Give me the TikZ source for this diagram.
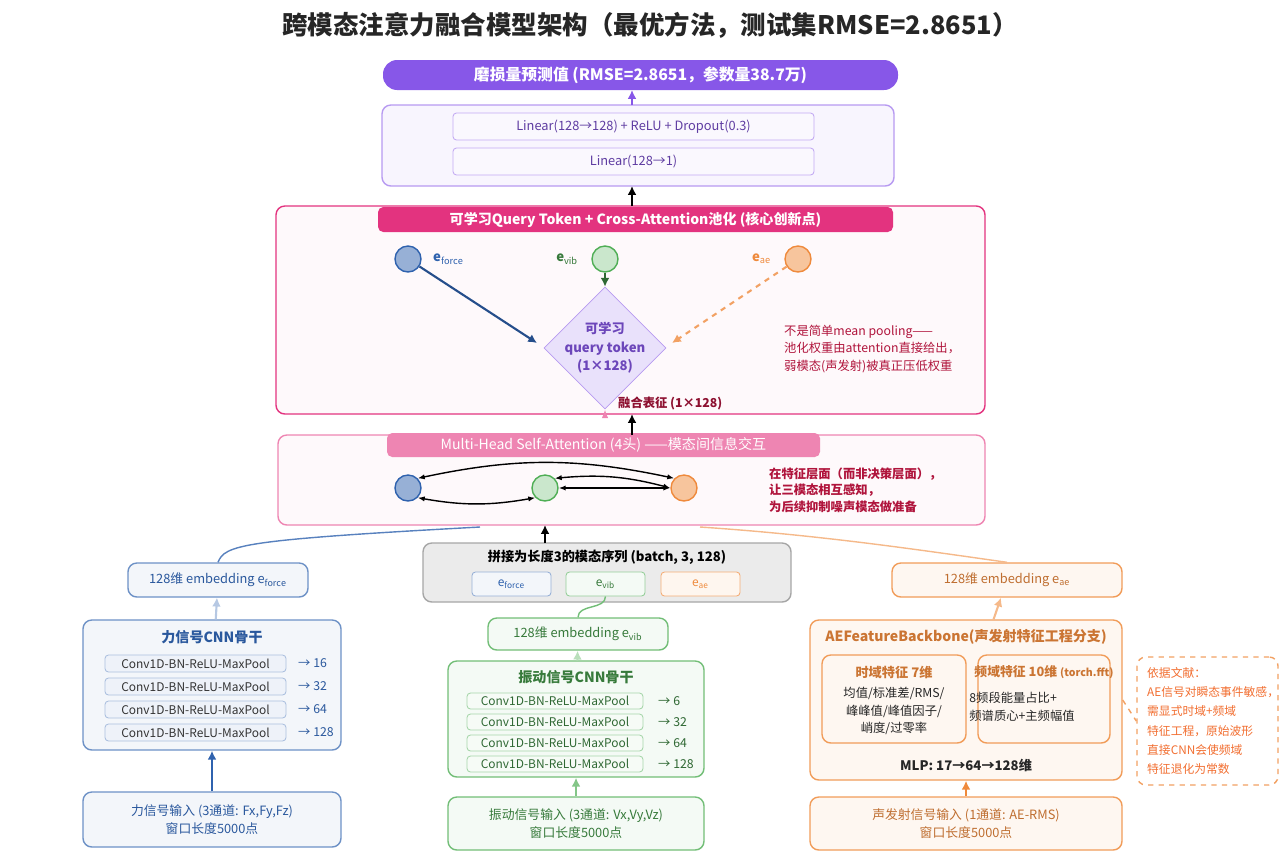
\documentclass[tikz,border=0pt]{standalone}
\usepackage{fontspec}
\setmainfont{Noto Sans CJK SC}
\usetikzlibrary{arrows.meta}
\definecolor{fblue}{HTML}{2F62AE}
\definecolor{fgreen}{HTML}{4FAE55}
\definecolor{forange}{HTML}{EF8A3C}
\definecolor{fpink}{HTML}{E3337F}
\definecolor{fpurple}{HTML}{8757E8}
\definecolor{fred}{HTML}{B0143C}
\tikzset{
  box/.style={draw, rounded corners=5pt, inner sep=0pt, line width=0.8pt, align=center, font=\fontsize{7.3}{10}\selectfont},
  bluebox/.style={box, draw=fblue!70, fill=fblue!6, text=fblue!90!black},
  greenbox/.style={box, draw=fgreen!80, fill=fgreen!6, text=fgreen!70!black},
  orangebox/.style={box, draw=forange!85, fill=forange!7, text=forange!80!black},
  conv/.style={box, rounded corners=2pt, line width=0.5pt, font=\fontsize{6.8}{8}\selectfont},
  tok/.style={circle, draw, line width=0.8pt, minimum size=0.52cm, inner sep=0pt},
  arr/.style={-{Latex[length=5pt,width=5pt]}, line width=1.2pt},
  note/.style={font=\fontsize{7}{10}\selectfont, align=left, anchor=west, text=fred}
}
% box from pixel corners
\newcommand\pbox[7]{\node[#6, minimum width={(#4-#2)*0.02cm}, minimum height={(#5-#3)*0.02cm}] (#1) at ({(#2+#4)/2},{(#3+#5)/2}) {#7};}
\begin{document}
\begin{tikzpicture}[x=0.02cm, y=-0.02cm]
\useasboundingbox (0,0) rectangle (1280,853);
\node[font=\fontsize{14.5}{16}\selectfont\bfseries, text=black!85] (title) at (650,25) {跨模态注意力融合模型架构（最优方法，测试集RMSE=2.8651）};

% output and head
\pbox{out}{383}{60}{898}{90}{box, draw=none, fill=fpurple, text=white, rounded corners=8pt, font=\fontsize{9}{10}\selectfont\bfseries}{磨损量预测值 (RMSE=2.8651，参数量38.7万)}
\pbox{head}{382}{105}{894}{186}{box, draw=fpurple!60, fill=fpurple!6}{}
\pbox{lin1}{453}{113}{814}{140}{conv, draw=fpurple!50, fill=fpurple!4, text=fpurple!70!black, font=\fontsize{7.3}{9}\selectfont}{Linear(128→128) + ReLU + Dropout(0.3)}
\pbox{lin2}{453}{148}{814}{175}{conv, draw=fpurple!50, fill=fpurple!4, text=fpurple!70!black, font=\fontsize{7.3}{9}\selectfont}{Linear(128→1)}
\coordinate (headtop) at (632,105);
\coordinate (outbot) at (632,90);
\draw[arr, fpurple] (headtop) -- (outbot);

% cross-attention pooling
\pbox{cross}{276}{206}{985}{414}{box, draw=fpink, fill=fpink!3}{}
\pbox{crosst}{378}{207}{893}{232}{box, draw=none, fill=fpink, text=white, rounded corners=3pt, font=\fontsize{8}{9}\selectfont\bfseries}{可学习Query Token + Cross-Attention池化 (核心创新点)}
\coordinate (crosstop) at (632,206);
\coordinate (headbot) at (632,186);
\draw[arr, black] (crosstop) -- (headbot);
\node[tok, draw=fblue, fill=fblue!50] (qf) at (408,259) {};
\node[tok, draw=fgreen, fill=fgreen!30] (qv) at (605,259) {};
\node[tok, draw=forange, fill=forange!50] (qa) at (798,259) {};
\node[anchor=west, text=fblue, font=\fontsize{7.5}{8}\selectfont\bfseries] (lf) at ([xshift=3pt]qf.east) {e$_{\mathit{force}}$};
\node[anchor=east, text=fgreen!70!black, font=\fontsize{7.5}{8}\selectfont\bfseries] (lv) at ([xshift=-4pt]qv.west) {e$_{\mathrm{vib}}$};
\node[anchor=east, text=forange, font=\fontsize{7.5}{8}\selectfont\bfseries] (la) at ([xshift=-4pt]qa.west) {e$_{\mathit{ae}}$};
\node[draw=fpurple!60, fill=fpurple!18, shape=rectangle, rotate=45, minimum size=1.72cm, inner sep=0pt] (qt) at (605,348) {};
\node[text=fpurple!80!black, align=center, font=\fontsize{7.5}{10.5}\selectfont\bfseries] (qtt) at (605,348) {可学习\\query token\\(1×128)};
\draw[arr, fblue!80!black] (qf) -- (537,343);
\draw[arr, fgreen!60!black] (qv) -- (qt.north east);
\draw[arr, forange!80, dashed] (qa) -- (672,343);
\node[note] (n1) at (778,349) {不是简单mean pooling——\\池化权重由attention直接给出，\\弱模态(声发射)被真正压低权重};
\coordinate (fusebot) at (605,414);
\draw[-{Latex[length=5pt]}, fpink!60, line width=1.2pt] (fusebot) -- (qt.south west);
\node[anchor=west, text=fred!80!black, font=\fontsize{7}{8}\selectfont\bfseries] (fuse) at (612,403) {融合表征 (1×128)};

% self-attention
\pbox{mhsa}{278}{435}{985}{525}{box, draw=fpink!60, fill=fpink!3}{}
\pbox{mhsat}{387}{433}{820}{457}{box, draw=none, fill=fpink!60, text=white, rounded corners=3pt, font=\fontsize{8}{9}\selectfont}{Multi-Head Self-Attention (4头) ——模态间信息交互}
\coordinate (mhsatop) at (632,435);
\coordinate (crossbot) at (632,414);
\draw[arr, black] (mhsatop) -- (crossbot);
\node[tok, draw=fblue, fill=fblue!50] (sf) at (408,488) {};
\node[tok, draw=fgreen, fill=fgreen!30] (sv) at (545,488) {};
\node[tok, draw=forange, fill=forange!50] (sa) at (684,488) {};
\draw[{Latex[length=4pt]}-{Latex[length=4pt]}, line width=0.8pt] (sf.north east) to[bend left=12] (sa.north west);
\draw[{Latex[length=4pt]}-{Latex[length=4pt]}, line width=0.8pt] (sv.north east) to[bend left=10] (sa.west);
\draw[{Latex[length=4pt]}-{Latex[length=4pt]}, line width=0.8pt] (sv.east) -- (sa.west);
\draw[{Latex[length=4pt]}-{Latex[length=4pt]}, line width=0.8pt] (sf.south east) to[bend right=10] (sv.south west);
\node[note, font=\fontsize{7}{9.5}\selectfont\bfseries] (n2) at (763,490) {在特征层面（而非决策层面），\\让三模态相互感知，\\为后续抑制噪声模态做准备};

% concat
\pbox{cat}{423}{543}{791}{602}{box, draw=black!35, fill=black!8, text=black}{}
\node[font=\fontsize{7.5}{8}\selectfont\bfseries] (catt) at (607,557) {拼接为长度3的模态序列 (batch, 3, 128)};
\pbox{cf}{472}{572}{551}{596}{conv, draw=fblue!50, fill=fblue!6, text=fblue}{e$_{\mathit{force}}$}
\pbox{cv}{566}{572}{645}{596}{conv, draw=fgreen!60, fill=fgreen!6, text=fgreen!70!black}{e$_{\mathrm{vib}}$}
\pbox{ca}{661}{572}{740}{596}{conv, draw=forange!70, fill=forange!8, text=forange}{e$_{\mathit{ae}}$}
\coordinate (cattop) at (545,543);
\coordinate (mhsabot) at (545,525);
\draw[arr, black] (cattop) -- (mhsabot);

% force branch
\pbox{ef}{128}{563}{308}{597}{bluebox}{128维 embedding e$_{\mathit{force}}$}
\pbox{bf}{83}{620}{341}{750}{bluebox}{}
\node[text=fblue!90!black, font=\fontsize{8}{9}\selectfont\bfseries] (bft) at (212,637) {力信号CNN骨干};
\pbox{inf}{83}{792}{341}{847}{bluebox}{力信号输入 (3通道: Fx,Fy,Fz)\\窗口长度5000点}
\foreach \y/\c [count=\i] in {655/16,678/32,701/64,724/128}{
  \pbox{fc\i}{105}{\y}{286}{\y+17}{conv, draw=fblue!40, fill=fblue!8, text=black!80}{Conv1D-BN-ReLU-MaxPool}
  \node[anchor=west, font=\fontsize{7}{8}\selectfont, text=fblue!90!black] (fo\i) at (292,\y+8.5) {→ \c};
}
\draw[arr, fblue] (inf) -- (bf);
\draw[arr, fblue!35] (bf) -- (ef);
\coordinate (bin) at (480,527);
\draw[fblue!80, line width=0.8pt] (ef.north) .. controls (225,545) and (240,540) .. (bin);

% vibration branch
\pbox{ev}{488}{618}{668}{650}{greenbox}{128维 embedding e$_{\mathrm{vib}}$}
\pbox{bv}{448}{661}{704}{777}{greenbox}{}
\node[text=fgreen!70!black, font=\fontsize{8}{9}\selectfont\bfseries] (bvt) at (576,677) {振动信号CNN骨干};
\pbox{inv}{448}{797}{704}{850}{greenbox}{振动信号输入 (3通道: Vx,Vy,Vz)\\窗口长度5000点}
\foreach \y/\c [count=\i] in {693/6,714/32,735/64,756/128}{
  \pbox{vc\i}{467}{\y}{643}{\y+16}{conv, draw=fgreen!50, fill=fgreen!5, text=fgreen!60!black}{Conv1D-BN-ReLU-MaxPool}
  \node[anchor=west, font=\fontsize{7}{8}\selectfont, text=fgreen!60!black] (vo\i) at (652,\y+8) {→ \c};
}
\draw[arr, fgreen!70] (inv) -- (bv);
\draw[arr, fgreen!40] (bv) -- (ev);
\draw[fgreen!80, line width=0.8pt] (ev.north) to[out=90, in=-90] (cv.south);

% acoustic emission branch
\pbox{ea}{892}{563}{1122}{597}{orangebox}{128维 embedding e$_{\mathit{ae}}$}
\pbox{ba}{810}{620}{1122}{780}{orangebox}{}
\node[text=forange!85!black, font=\fontsize{8}{9}\selectfont\bfseries] (bat) at (966,637) {AEFeatureBackbone(声发射特征工程分支)};
\pbox{tf}{822}{655}{966}{743}{orangebox}{}
\node[text=forange!85!black, font=\fontsize{7.5}{9}\selectfont\bfseries] (tft) at (894,672) {时域特征 7维};
\node[font=\fontsize{7}{10}\selectfont, align=center, text=black!85] (tfx) at (894,711) {均值/标准差/RMS/\\峰峰值/峰值因子/\\峭度/过零率};
\pbox{sf2}{978}{655}{1110}{743}{orangebox}{}
\node[text=forange!85!black, font=\fontsize{7.3}{9}\selectfont\bfseries] (sft) at (1044,672) {频域特征 10维 {\fontsize{6}{8}\selectfont(torch.fft)}};
\node[font=\fontsize{7}{10}\selectfont, align=left, text=black!85] (sfx) at (1022,707) {8频段能量占比+\\频谱质心+主频幅值};
\node[font=\fontsize{7.5}{9}\selectfont\bfseries, text=black!85] (mlp) at (966,765) {MLP:  17→64→128维};
\pbox{ina}{810}{797}{1122}{850}{orangebox}{声发射信号输入 (1通道: AE-RMS)\\窗口长度5000点}
\pbox{ref}{1137}{657}{1278}{785}{box, dashed, draw=forange!80, fill=white}{}
\node[note, text=forange!80!red, font=\fontsize{6.7}{11}\selectfont] (reft) at (1141,721) {依据文献：\\AE信号对瞬态事件敏感，\\需显式时域+频域\\特征工程，原始波形\\直接CNN会使频域\\特征退化为常数};
\draw[forange!80, dashed, line width=0.8pt] (ba.east) -- (ref.west);
\draw[arr, forange] (ina) -- (ba);
\draw[arr, forange!60] (ba) -- (ea);
\coordinate (ain) at (700,527);
\draw[forange!60, line width=0.8pt] (ea.north) .. controls (920,550) and (820,535) .. (ain);
\end{tikzpicture}
\end{document}
